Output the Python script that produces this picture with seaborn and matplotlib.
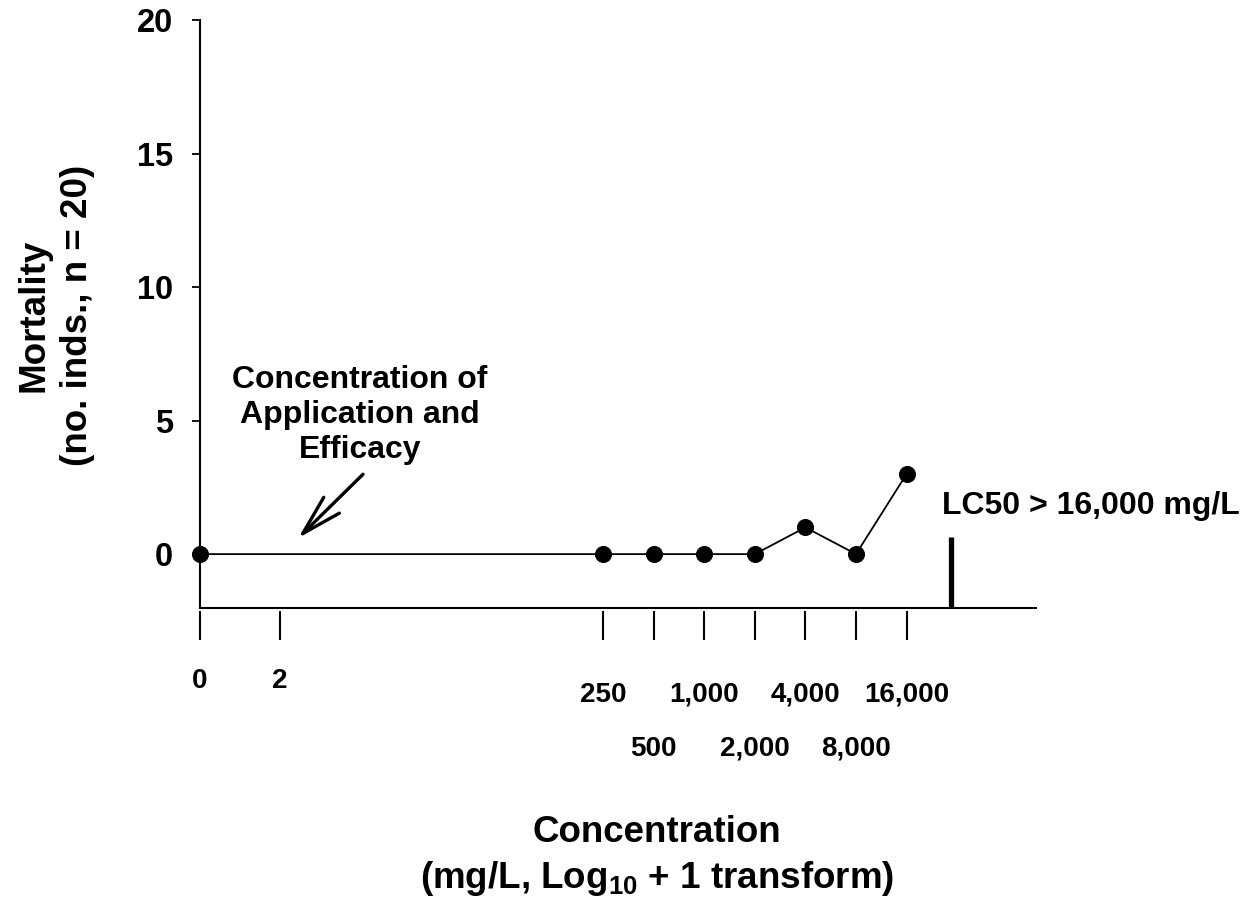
import numpy as np
import pandas as pd
import matplotlib
matplotlib.use("Agg")
import matplotlib.pyplot as plt
import seaborn as sns

# ---------------- data ----------------
concentrations = [0, 250, 500, 1000, 2000, 4000, 8000, 16000]   # mg/L
mortality = [0, 0, 0, 0, 0, 1, 0, 3]                           # no. individuals (n = 20)

tick_values = [0, 2, 250, 500, 1000, 2000, 4000, 8000, 16000]
tick_labels = ["0", "2", "250", "500", "1,000", "2,000", "4,000", "8,000", "16,000"]
tick_label_rows = [0, 0, 1, 2, 1, 2, 1, 2, 1]
ytick_values = [0, 5, 10, 15, 20]

lc50_label = "LC50 > 16,000 mg/L"
lc50_mark_log = 4.47          # position of LC50 marker on log10(x+1) axis
application_label = "Concentration of\nApplication and\nEfficacy"
application_arrow_head = (0.584, 0.6)
application_arrow_tail = (0.97, 2.99)

x_label = "Concentration\n(mg/L, Log$_{10}$ + 1 transform)"
y_label = "Mortality\n(no. inds., n = 20)"

# ---------------- style ----------------
sns.set_style("ticks")
plt.rcParams["font.family"] = ["Liberation Sans", "DejaVu Sans"]
plt.rcParams["font.weight"] = "bold"
plt.rcParams["text.color"] = "black"
plt.rcParams["axes.labelcolor"] = "black"
plt.rcParams["xtick.color"] = "black"
plt.rcParams["ytick.color"] = "black"
plt.rcParams["mathtext.fontset"] = "custom"
plt.rcParams["mathtext.rm"] = "Liberation Sans:bold"
plt.rcParams["mathtext.it"] = "Liberation Sans:bold"
plt.rcParams["mathtext.bf"] = "Liberation Sans:bold"

df = pd.DataFrame({
    "x": np.log10(np.array(concentrations) + 1),
    "mortality": mortality,
})

fig = plt.figure(figsize=(12.48, 8.97), dpi=100)
ax = fig.add_axes([200 / 1248, 1 - 611 / 897, 837 / 1248, 591 / 897])

sns.lineplot(data=df, x="x", y="mortality", ax=ax, color="black",
             linewidth=1.3, marker="o", markersize=11.5,
             markeredgecolor="black", markerfacecolor="black", sort=False)
for ln in ax.lines:
    ln.set_clip_on(False)

ax.set_xlim(0, 4.98)
ax.set_ylim(-2.13, 20)

# axes lines
for s in ["top", "right", "bottom"]:
    ax.spines[s].set_visible(False)
ax.spines["left"].set_bounds(-2, 20)
ax.spines["left"].set_linewidth(1.5)
ax.spines["left"].set_color("black")
ax.axhline(-2, color="black", linewidth=1.5)

# y ticks
ax.set_yticks(ytick_values)
ax.set_yticklabels([str(v) for v in ytick_values])
ax.tick_params(axis="y", direction="out", length=5.5, width=1.3,
               labelsize=23.5, pad=14, colors="black")

# x ticks (log10(x+1) transform)
ax.set_xticks(np.log10(np.array(tick_values) + 1))
ax.set_xticklabels(tick_labels)
ax.tick_params(axis="x", direction="out", length=21, width=1.5,
               labelsize=20, colors="black")
row_pads = {0: 19.8, 1: 29.9, 2: 68.8}
for tick, row in zip(ax.xaxis.get_major_ticks(), tick_label_rows):
    tick.set_pad(row_pads[row])
for lab in ax.get_xticklabels() + ax.get_yticklabels():
    lab.set_fontweight("bold")

# axis labels
ax.set_xlabel(x_label, fontsize=26.5, fontweight="bold", linespacing=1.3)
ax.xaxis.label.set_verticalalignment("center")
ax.xaxis.set_label_coords(0.546, -0.415)
ax.set_ylabel(y_label, fontsize=26.5, fontweight="bold", linespacing=1.3)
ax.yaxis.label.set_verticalalignment("center")
ax.yaxis.set_label_coords(-0.172, 0.5)

# LC50 marker and text
ax.vlines(lc50_mark_log, -2, 0.64, color="black", linewidth=3.8)
ax.text(4.417, 1.8, lc50_label, fontsize=23, fontweight="bold",
        ha="left", va="center", clip_on=False)

# application annotation
ax.text(0.952, 5.21, application_label, fontsize=23, fontweight="bold",
        ha="center", va="center", multialignment="center", linespacing=1.2)
ax.annotate("", xy=application_arrow_head, xytext=application_arrow_tail,
            arrowprops=dict(arrowstyle="->,head_length=1.46,head_width=0.4",
                            mutation_scale=20, lw=2.4, color="black",
                            shrinkA=0, shrinkB=0))

fig.savefig("out.png", dpi=100)
